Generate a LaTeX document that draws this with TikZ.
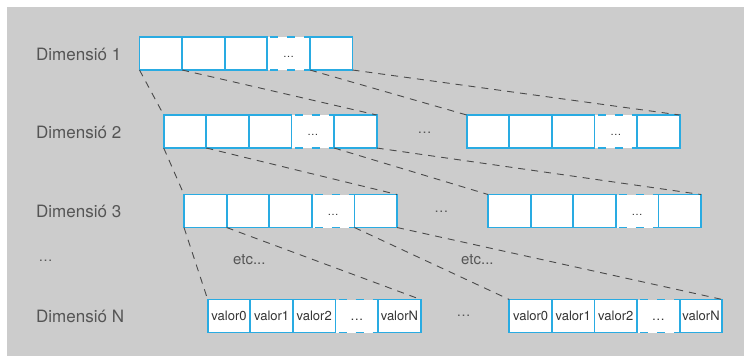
\documentclass[tikz,border=0pt]{standalone}
\usepackage{fontspec}
\setmainfont{TeX Gyre Heros}
\definecolor{cblue}{HTML}{29ABE2}
\definecolor{bgc}{HTML}{CCCCCC}
\definecolor{txt}{HTML}{555555}
\definecolor{vtxt}{HTML}{333333}
\definecolor{ln}{HTML}{4A4A4A}
\tikzset{
 cell/.style={draw=cblue, line width=1.8pt, fill=white, minimum width=42.6pt, minimum height=33pt, inner sep=0pt, outer sep=0pt, text=vtxt, font=\fontsize{13}{15}\selectfont},
 dcell/.style={fill=white, minimum width=42.6pt, minimum height=33pt, inner sep=0pt, outer sep=0pt, text=vtxt},
 dedge/.style={draw=cblue, line width=1.8pt, dash pattern=on 8pt off 9pt, dash phase=-3pt},
 conn/.style={draw=ln, line width=0.9pt, dash pattern=on 7pt off 6pt},
 lbl/.style={font=\fontsize{17}{20}\selectfont, text=txt, anchor=base west, inner sep=0pt},
 etcl/.style={font=\fontsize{15}{18}\selectfont, text=txt, anchor=base west, inner sep=0pt},
 dots/.style={font=\fontsize{14}{16}\selectfont, text=txt, inner sep=0pt},
}
\newcommand\cellrow[8]{%
 \node[dcell] (#1c4) at ({#2+21.3+42.6*3},#3) {#8\vphantom{l}\ldots};
 \draw[dedge] (#1c4.north west) -- (#1c4.north east);
 \draw[dedge] (#1c4.south west) -- (#1c4.south east);
 \node[cell] (#1c1) at ({#2+21.3},#3) {#4};
 \node[cell] (#1c2) at ({#2+21.3+42.6},#3) {#5};
 \node[cell] (#1c3) at ({#2+21.3+42.6*2},#3) {#6};
 \node[cell] (#1c5) at ({#2+21.3+42.6*4},#3) {#7};
}
\begin{document}
\begin{tikzpicture}[x=1pt,y=-1pt]
\useasboundingbox (0,0) rectangle (744,356);
\fill[white] (0,0) rectangle (744,356);
\fill[bgc] (7,7) rectangle (744,356);

\node[lbl] (l1) at (36,60) {Dimensió 1};
\node[lbl] (l2) at (36,138) {Dimensió 2};
\node[lbl] (l3) at (36,217.5) {Dimensió 3};
\node[dots] (ld) at (45.5,261) {\ldots};
\node[lbl] (ln) at (36,322.5) {Dimensió N};

\cellrow{r1}{139.5}{53.5}{}{}{}{}{\fontsize{11}{13}\selectfont}
\cellrow{r2a}{163.7}{131.5}{}{}{}{}{\fontsize{11}{13}\selectfont}
\cellrow{r2b}{466.7}{131.5}{}{}{}{}{\fontsize{11}{13}\selectfont}
\cellrow{r3a}{184}{211}{}{}{}{}{\fontsize{11}{13}\selectfont}
\cellrow{r3b}{488}{211}{}{}{}{}{\fontsize{11}{13}\selectfont}
\cellrow{rna}{207.7}{316}{valor0}{valor1}{valor2}{valorN}{\fontsize{13}{15}\selectfont}
\cellrow{rnb}{509.3}{316}{valor0}{valor1}{valor2}{valorN}{\fontsize{13}{15}\selectfont}

\node[dots] (m2) at (424.7,133) {\ldots};
\node[dots] (m3) at (441.3,212) {\ldots};
\node[dots] (mn) at (463.7,315.7) {\ldots};

\node[etcl] (e1) at (233,264) {etc...};
\node[etcl] (e2) at (461,264) {etc...};

\draw[conn] (r1c1.south west) -- (r2ac1.north west);
\draw[conn] (r1c1.south east) -- (r2ac5.north east);
\draw[conn] (r1c5.south west) -- (r2bc1.north west);
\draw[conn] (r1c5.south east) -- (r2bc5.north east);

\draw[conn] (r2ac1.south west) -- (r3ac1.north west);
\draw[conn] (r2ac1.south east) -- (r3ac5.north east);
\draw[conn] (r2ac5.south west) -- (r3bc1.north west);
\draw[conn] (r2ac5.south east) -- (r3bc5.north east);

\draw[conn] (r3ac1.south west) -- (rnac1.north west);
\draw[conn] (r3ac1.south east) -- (rnac5.north east);
\draw[conn] (r3ac5.south west) -- (rnbc1.north west);
\draw[conn] (r3ac5.south east) -- (rnbc5.north east);
\end{tikzpicture}
\end{document}
